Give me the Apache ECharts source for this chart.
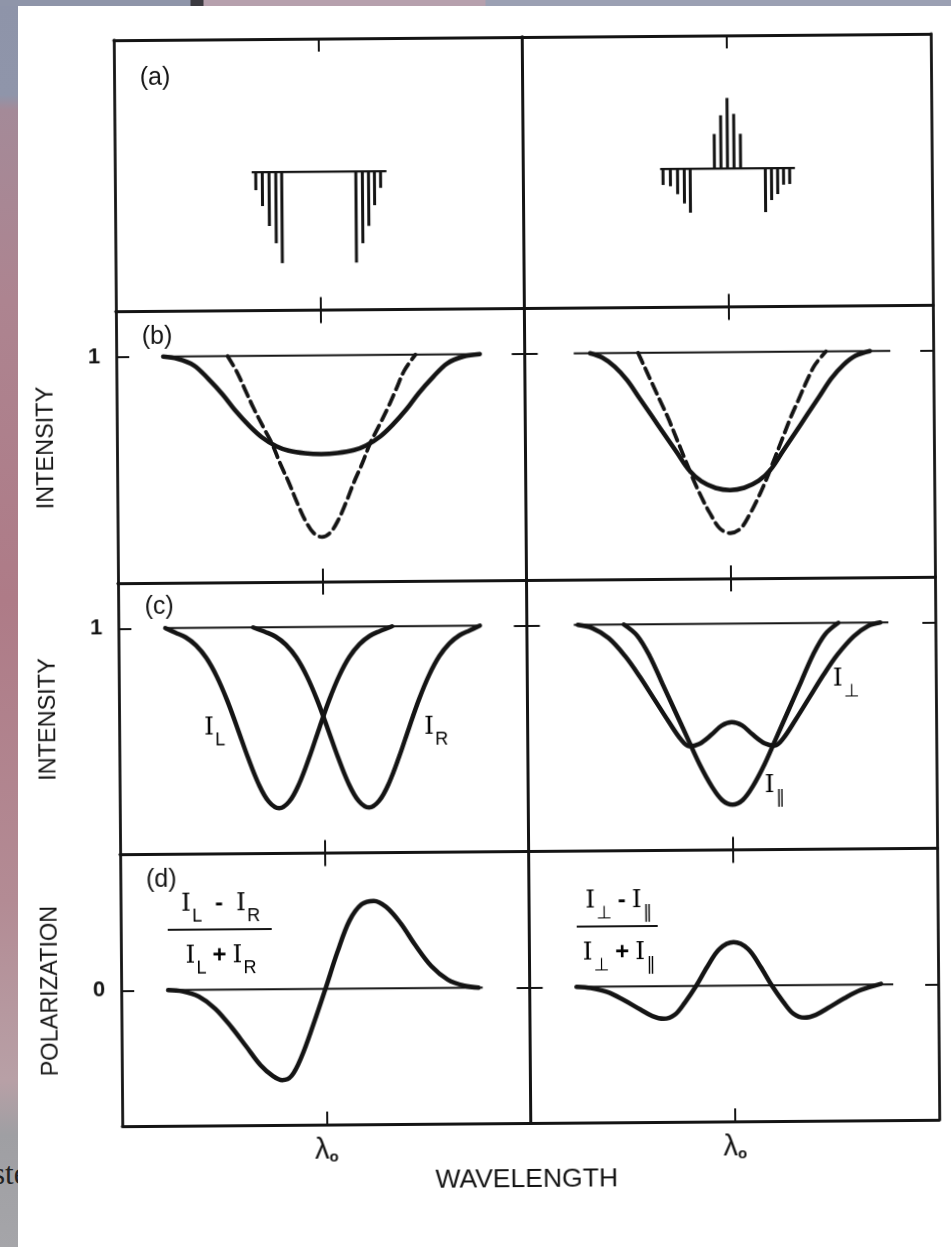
<!DOCTYPE html>
<html>
<head>
<meta charset="utf-8">
<title>Zeeman line profiles</title>
<script src="https://cdn.jsdelivr.net/npm/echarts@6.0.0/dist/echarts.min.js"></script>
<style>
  html, body { margin: 0; padding: 0; background: #fff; }
  #page { position: relative; width: 951px; height: 1247px; overflow: hidden; background: #fff; }
  #chart { position: absolute; left: 0; top: 0; width: 951px; height: 1247px;
           transform: rotate(-0.45deg); transform-origin: 526.5px 580px; }
  .strip-left { position: absolute; left: 0; top: 0; width: 18px; height: 1247px; overflow: hidden;
    background: linear-gradient(to bottom, #8e94a9 0px, #8f95aa 95px, #a48a98 110px, #ad8490 300px,
      #ae7b87 600px, #b38b94 900px, #b8a0a6 1080px, #9f9fa3 1135px, #a5a5a9 1247px); }
  .strip-left span { position: absolute; left: -7px; top: 1156px; font: 31px "Liberation Serif", serif; color: #222; }
  .strip-top { position: absolute; left: 0; top: 0; width: 951px; height: 6px;
    background: linear-gradient(to right, #8f95a9 0px, #8f95a9 190px, #3b3a40 191px, #3b3a40 203px,
      #b6a0ad 204px, #b6a0ad 485px, #9ba0b3 486px); }
</style>
</head>
<body>
<div id="page">
  <div id="chart"></div>
  <div class="strip-left"><span>ste</span></div>
  <div class="strip-top"></div>
</div>
<script>
const INK = '#141414';

// x is wavelength offset from lambda0, one panel spans -1..1
const lambdaTicks = [0];

// (a) line patterns
const aLeftX = [-0.31, -0.278, -0.245, -0.212, -0.183, 0.18, 0.212, 0.242, 0.271, 0.301];
const aLeftY = [-0.135, -0.255, -0.405, -0.535, -0.685, -0.685, -0.54, -0.41, -0.255, -0.125];
const aRightX = [-0.316, -0.28, -0.245, -0.212, -0.183, -0.064, -0.032, 0, 0.032, 0.064, 0.185, 0.215, 0.245, 0.274, 0.304];
const aRightY = [-0.12, -0.13, -0.19, -0.26, -0.33, 0.26, 0.40, 0.53, 0.41, 0.26, -0.33, -0.24, -0.195, -0.125, -0.12];
const aLeftBase = [-0.33, 0.33];
const aRightBase = [-0.33, 0.33];

// (b) intensity, solid and dashed
const bLeftSolidX = [-0.77, -0.70, -0.62, -0.55, -0.48, -0.42, -0.35, -0.29, -0.22, -0.16, -0.08, 0, 0.08, 0.16, 0.22, 0.29, 0.35, 0.42, 0.48, 0.55, 0.62, 0.70, 0.78];
const bLeftSolidY = [1.0, 0.99, 0.96, 0.90, 0.83, 0.76, 0.69, 0.64, 0.60, 0.58, 0.568, 0.564, 0.568, 0.58, 0.60, 0.64, 0.69, 0.76, 0.83, 0.90, 0.96, 0.99, 1.0];
const bLeftDashX = [-0.455, -0.41, -0.37, -0.33, -0.28, -0.24, -0.20, -0.16, -0.12, -0.08, -0.04, 0, 0.04, 0.08, 0.12, 0.16, 0.20, 0.24, 0.28, 0.33, 0.37, 0.41, 0.465];
const bLeftDashY = [1.0, 0.93, 0.85, 0.77, 0.68, 0.61, 0.52, 0.44, 0.35, 0.27, 0.215, 0.197, 0.215, 0.27, 0.35, 0.44, 0.52, 0.61, 0.68, 0.77, 0.85, 0.93, 1.0];
const bRightSolidX = [-0.68, -0.62, -0.56, -0.50, -0.44, -0.38, -0.32, -0.26, -0.20, -0.14, -0.07, 0, 0.07, 0.14, 0.20, 0.26, 0.32, 0.38, 0.44, 0.50, 0.56, 0.62, 0.69];
const bRightSolidY = [1.0, 0.98, 0.94, 0.88, 0.80, 0.72, 0.64, 0.56, 0.48, 0.43, 0.40, 0.39, 0.40, 0.43, 0.48, 0.56, 0.64, 0.72, 0.80, 0.88, 0.94, 0.98, 1.0];
const bRightDashX = [-0.445, -0.42, -0.38, -0.34, -0.30, -0.26, -0.22, -0.18, -0.14, -0.10, -0.05, 0, 0.05, 0.10, 0.14, 0.18, 0.22, 0.26, 0.30, 0.34, 0.38, 0.42, 0.475];
const bRightDashY = [1.0, 0.95, 0.87, 0.79, 0.71, 0.62, 0.53, 0.44, 0.36, 0.29, 0.22, 0.20, 0.22, 0.29, 0.36, 0.44, 0.53, 0.62, 0.71, 0.79, 0.87, 0.94, 1.0];

// (c) circular I_L, I_R and linear I_perp, I_par
const cLX = [-0.77, -0.72, -0.67, -0.62, -0.57, -0.52, -0.47, -0.42, -0.37, -0.32, -0.27, -0.22, -0.17, -0.12, -0.07, -0.02, 0.03, 0.08, 0.13, 0.18, 0.23, 0.28, 0.34];
const cLY = [1.0, 0.979, 0.958, 0.922, 0.866, 0.784, 0.678, 0.553, 0.424, 0.309, 0.229, 0.20, 0.229, 0.309, 0.424, 0.553, 0.678, 0.784, 0.866, 0.922, 0.958, 0.979, 1.0];
const cRX = [-0.34, -0.28, -0.23, -0.18, -0.13, -0.08, -0.03, 0.02, 0.07, 0.12, 0.17, 0.22, 0.27, 0.32, 0.37, 0.42, 0.47, 0.52, 0.57, 0.62, 0.67, 0.72, 0.77];
const cRY = [1.0, 0.979, 0.958, 0.922, 0.866, 0.784, 0.678, 0.553, 0.424, 0.309, 0.229, 0.20, 0.229, 0.309, 0.424, 0.553, 0.678, 0.784, 0.866, 0.922, 0.958, 0.979, 1.0];
const cPerpX = [-0.75, -0.68, -0.60, -0.52, -0.45, -0.38, -0.31, -0.25, -0.21, -0.16, -0.10, -0.05, 0, 0.05, 0.10, 0.16, 0.21, 0.25, 0.31, 0.38, 0.45, 0.52, 0.60, 0.67, 0.73];
const cPerpY = [1.0, 0.985, 0.94, 0.86, 0.77, 0.67, 0.57, 0.49, 0.46, 0.47, 0.51, 0.55, 0.565, 0.55, 0.51, 0.47, 0.46, 0.49, 0.57, 0.67, 0.77, 0.86, 0.94, 0.985, 1.0];
const cParX = [-0.525, -0.46, -0.40, -0.34, -0.28, -0.22, -0.16, -0.10, -0.05, 0, 0.05, 0.10, 0.16, 0.22, 0.28, 0.34, 0.40, 0.46, 0.525];
const cParY = [1.0, 0.95, 0.86, 0.74, 0.62, 0.50, 0.38, 0.28, 0.22, 0.20, 0.22, 0.28, 0.38, 0.50, 0.62, 0.74, 0.86, 0.95, 1.0];

// (d) polarization
const dLeftX = [-0.77, -0.70, -0.62, -0.54, -0.46, -0.39, -0.32, -0.26, -0.215, -0.17, -0.12, -0.06, 0, 0.06, 0.12, 0.18, 0.24, 0.30, 0.37, 0.44, 0.52, 0.60, 0.68, 0.75];
const dLeftY = [0, -0.01, -0.05, -0.14, -0.28, -0.42, -0.56, -0.64, -0.67, -0.64, -0.50, -0.26, 0, 0.27, 0.50, 0.62, 0.645, 0.60, 0.48, 0.32, 0.16, 0.06, 0.015, 0];
const dRightX = [-0.77, -0.70, -0.62, -0.54, -0.46, -0.40, -0.345, -0.29, -0.24, -0.185, -0.13, -0.07, 0, 0.07, 0.13, 0.185, 0.24, 0.29, 0.345, 0.40, 0.46, 0.54, 0.62, 0.72];
const dRightY = [0, -0.01, -0.04, -0.10, -0.17, -0.22, -0.24, -0.21, -0.12, 0, 0.14, 0.27, 0.32, 0.27, 0.14, 0, -0.12, -0.21, -0.24, -0.22, -0.17, -0.10, -0.04, 0.005];

// continuum / zero reference segments, per panel (b, c, d) x (left, right)
const levelSpans = [[[-0.77, 0.78], [-0.76, 0.79]], [[-0.77, 0.77], [-0.77, 0.77]], [[-0.77, 0.77], [-0.78, 0.78]]];
const levelValues = [1, 1, 0];

const rowYMin = [-1.04, 0, 0, -1];
const rowYMax = [1, 1.2, 1.2, 1];
const rowLevel = [null, 1, 1, 0];
const rowName = ['', 'INTENSITY', 'INTENSITY', 'POLARIZATION'];
const panelTags = ['(a)', '(b)', '(c)', '(d)'];

const COL_LEFT = [118, 526.5];
const COL_W = 408.5;
const ROW_TOP = 37;
const ROW_H = 271.5;

const zip = (xs, ys) => xs.map((x, i) => [x, ys[i]]);

const grids = [];
const xAxes = [];
const yAxes = [];
for (let r = 0; r < 4; r++) {
	for (let c = 0; c < 2; c++) {
		const g = r * 2 + c;
		grids.push({ left: COL_LEFT[c], top: ROW_TOP + r * ROW_H, width: COL_W, height: ROW_H, outerBoundsMode: 'none' });
		['bottom', 'top'].forEach((pos) => {
			xAxes.push({
				gridIndex: g, type: 'value', min: -1, max: 1, position: pos,
				axisLine: { onZero: false, lineStyle: { color: INK, width: 2.8 } },
				axisTick: { inside: true, length: 13, customValues: lambdaTicks, lineStyle: { color: INK, width: 2 } },
				axisLabel: {
					show: r === 3 && pos === 'bottom',
					customValues: lambdaTicks,
					margin: 11,
					formatter: () => '{l|λ}{o|o}',
					rich: {
						l: { fontFamily: 'Liberation Sans', fontSize: 29, color: INK },
						o: { fontFamily: 'Liberation Sans', fontSize: 15, fontWeight: 'bold', color: INK, verticalAlign: 'bottom', lineHeight: 12 }
					}
				},
				splitLine: { show: false }
			});
		});
		['left', 'right'].forEach((pos) => {
			const hasLevel = rowLevel[r] !== null;
			const outer = c === 0 && pos === 'left';
			yAxes.push({
				gridIndex: g, type: 'value', min: rowYMin[r], max: rowYMax[r], position: pos,
				axisLine: { onZero: false, lineStyle: { color: INK, width: 2.8 } },
				axisTick: { show: hasLevel, inside: true, length: 13, customValues: hasLevel ? [rowLevel[r]] : undefined, lineStyle: { color: INK, width: 2 } },
				axisLabel: {
					show: hasLevel && outer,
					customValues: hasLevel ? [rowLevel[r]] : undefined,
					margin: 16,
					color: INK,
					fontFamily: 'Liberation Sans',
					fontWeight: 'bold',
					fontSize: 22
				},
				splitLine: { show: false },
				name: outer ? rowName[r] : '',
				nameLocation: 'middle',
				nameRotate: 90,
				nameGap: 58,
				nameTextStyle: { fontFamily: 'Liberation Sans', fontSize: 23.5, color: INK }
			});
		});
	}
}

const curve = (g, xs, ys, extra) => ({
	type: 'line', xAxisIndex: g * 2, yAxisIndex: g * 2,
	data: zip(xs, ys), symbol: 'none', smooth: 0.35, silent: true, z: 3,
	lineStyle: Object.assign({ color: INK, width: 4.5, cap: 'round', join: 'round' }, extra || {})
});
const flat = (g, span, level) => ({
	type: 'line', xAxisIndex: g * 2, yAxisIndex: g * 2,
	data: [[span[0], level], [span[1], level]], symbol: 'none', silent: true, z: 2,
	lineStyle: { color: INK, width: 2.2 }
});
const sticks = (g, xs, ys) => ({
	type: 'bar', xAxisIndex: g * 2, yAxisIndex: g * 2,
	data: zip(xs, ys), barWidth: 3, silent: true, itemStyle: { color: INK }
});

const series = [
	sticks(0, aLeftX, aLeftY),
	flat(0, aLeftBase, 0),
	sticks(1, aRightX, aRightY),
	flat(1, aRightBase, 0),
	curve(2, bLeftSolidX, bLeftSolidY),
	curve(2, bLeftDashX, bLeftDashY, { type: [11, 6], width: 3.8 }),
	curve(3, bRightSolidX, bRightSolidY),
	curve(3, bRightDashX, bRightDashY, { type: [11, 6], width: 3.8 }),
	curve(4, cLX, cLY),
	curve(4, cRX, cRY),
	curve(5, cPerpX, cPerpY),
	curve(5, cParX, cParY),
	curve(6, dLeftX, dLeftY),
	curve(7, dRightX, dRightY)
];
levelSpans.forEach((pair, i) => {
	pair.forEach((span, c) => series.push(flat((i + 1) * 2 + c, span, levelValues[i])));
});

// subscripts are pushed down with top padding inside a taller line box
const richI = {
	i: { fontFamily: 'DejaVu Serif', fontSize: 25, color: INK, lineHeight: 30, verticalAlign: 'top' },
	s: { fontFamily: 'Liberation Sans', fontSize: 18, color: INK, lineHeight: 18, verticalAlign: 'top', padding: [16, 0, 0, 1] },
	p: { fontFamily: 'DejaVu Sans', fontSize: 18, color: INK, lineHeight: 18, verticalAlign: 'top', padding: [16, 0, 0, 1] },
	op: { fontFamily: 'Liberation Sans', fontSize: 24, fontWeight: 'bold', color: INK, lineHeight: 30, verticalAlign: 'top', padding: [0, 13, 0, 13] },
	sp: { fontFamily: 'Liberation Sans', fontSize: 24, fontWeight: 'bold', color: INK, lineHeight: 30, verticalAlign: 'top', padding: [0, 6, 0, 6] }
};
const label = (x, y, text, align) => ({
	type: 'text', x: x, y: y, silent: true,
	style: { text: text, rich: richI, align: align || 'left', verticalAlign: 'middle' }
});

const graphic = panelTags.map((t, r) => ({
	type: 'text', x: 159, y: ROW_TOP + r * ROW_H + [38, 26, 24, 25.5][r], silent: true,
	style: { text: t, font: '25px "Liberation Sans"', fill: INK, align: 'center', verticalAlign: 'middle' }
}));
graphic.push(
	label(203, 728, '{i|I}{s|L}'),
	label(423, 729, '{i|I}{s|R}'),
	label(832, 684, '{i|I}{p|⊥}'),
	label(763, 790, '{i|I}{p|∥}'),
	label(218, 904, '{i|I}{s|L}{op|-}{i|I}{s|R}', 'center'),
	{ type: 'line', silent: true, shape: { x1: 165, y1: 927, x2: 269, y2: 927 }, style: { stroke: INK, lineWidth: 2 } },
	label(218, 956, '{i|I}{s|L}{sp|+}{i|I}{s|R}', 'center'),
	label(616, 904, '{i|I}{p|⊥}{sp|-}{i|I}{p|∥}', 'center'),
	{ type: 'line', silent: true, shape: { x1: 574, y1: 927, x2: 655, y2: 927 }, style: { stroke: INK, lineWidth: 2 } },
	label(616, 956, '{i|I}{p|⊥}{sp|+}{i|I}{p|∥}', 'center'),
	{
		type: 'text', x: 522, y: 1180, silent: true,
		style: { text: 'WAVELENGTH', font: '26.5px "Liberation Sans"', fill: INK, align: 'center', verticalAlign: 'middle' }
	}
);

const chart = echarts.init(document.getElementById('chart'), null, { width: 951, height: 1247 });
chart.setOption({
	animation: false,
	backgroundColor: 'transparent',
	grid: grids,
	xAxis: xAxes,
	yAxis: yAxes,
	series: series,
	graphic: graphic
});
</script>
</body>
</html>
